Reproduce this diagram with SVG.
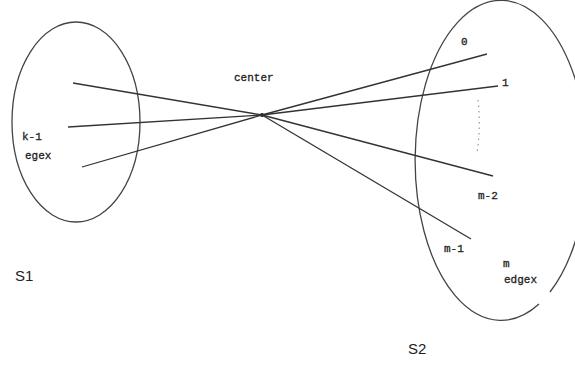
<svg xmlns="http://www.w3.org/2000/svg" width="575" height="365" viewBox="0 0 575 365">
<style>
.shape{fill:none;stroke:#444;stroke-width:1.3}
.edge{stroke:#333;stroke-width:1.3;fill:none}
.t{font-family:"Liberation Mono",monospace;font-size:11px;fill:#222;stroke:#222;stroke-width:0.3}
.s{font-family:"Liberation Sans",Arial,sans-serif;font-size:15px;fill:#222}
</style>
<rect width="575" height="365" fill="#fff"/>
<g id="S1">
<ellipse class="shape" cx="76" cy="122" rx="64" ry="100"/>
<text class="t" x="22" y="140">k-1</text>
<text class="t" x="25" y="159">egex</text>
<text class="s" x="15" y="281">S1</text>
</g>
<g id="S2">
<path class="shape" d="M550,292 A86,160 0 1 0 539,304"/>
<text class="t" x="461" y="45">0</text>
<text class="t" x="502" y="86">1</text>
<text class="t" x="478" y="199">m-2</text>
<text class="t" x="444" y="252">m-1</text>
<text class="t" x="503" y="267">m</text>
<text class="t" x="504" y="283">edgex</text>
<text class="s" x="408" y="354">S2</text>
</g>
<g id="center">
<text class="t" x="234" y="81">center</text>
<circle cx="262" cy="115" r="2" fill="#111"/>
</g>
<g id="connectors">
<line class="edge" x1="73" y1="83" x2="262" y2="115"/>
<line class="edge" x1="68" y1="127" x2="262" y2="115"/>
<line class="edge" x1="82" y1="167" x2="262" y2="115"/>
<line class="edge" x1="262" y1="115" x2="487" y2="54"/>
<line class="edge" x1="262" y1="115" x2="498" y2="86"/>
<line class="edge" x1="262" y1="115" x2="493" y2="176"/>
<line class="edge" x1="262" y1="115" x2="471" y2="239"/>
<path d="M478,100 Q481,127 477,153" fill="none" stroke="#999" stroke-width="1.2" stroke-dasharray="1.5,4"/>
</g>
</svg>
